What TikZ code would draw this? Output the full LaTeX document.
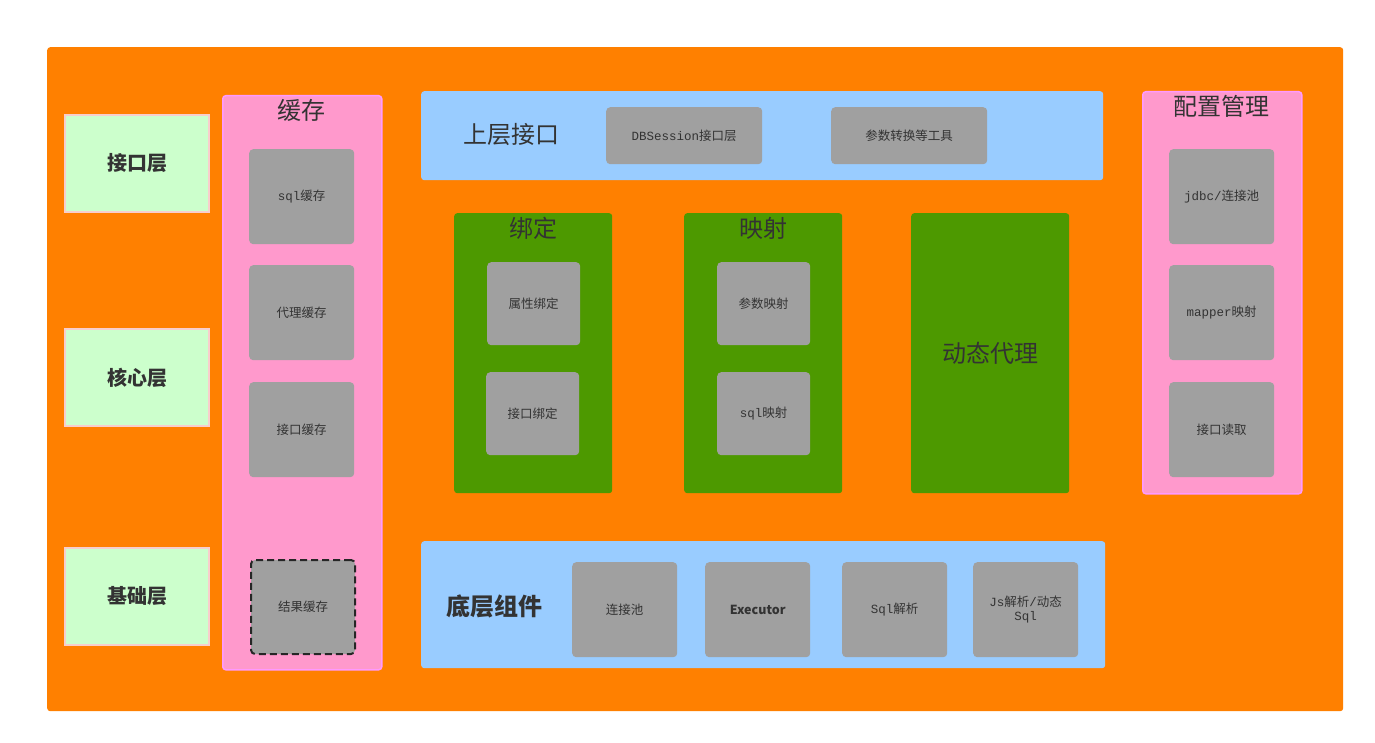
\documentclass[tikz,border=0pt]{standalone}
\usepackage{fontspec}
\setmainfont{Noto Sans CJK SC}
\setmonofont{Liberation Mono}
\definecolor{orangebg}{HTML}{FF8000}
\definecolor{layerfill}{HTML}{CCFFCC}
\definecolor{layerdraw}{HTML}{F8CECC}
\definecolor{pinkfill}{HTML}{FF99CC}
\definecolor{pinkdraw}{HTML}{FF99FF}
\definecolor{bluefill}{HTML}{99CCFF}
\definecolor{greenfill}{HTML}{4D9900}
\definecolor{grayfill}{HTML}{A0A0A0}
\definecolor{txt}{HTML}{333333}
\newcommand\bx[7][]{\node[#2, #1, anchor=north west, inner sep=0pt, minimum width={(#5-#3)*1pt}, minimum height={(#6-#4)*1pt}] (#7) at (#3,#4)}
\tikzset{
  orangebox/.style={fill=orangebg, rounded corners=3pt},
  layerbox/.style={fill=layerfill, draw=layerdraw, line width=2pt, text=txt, font=\bfseries\fontsize{20}{24}\selectfont},
  pinkcol/.style={fill=pinkfill, draw=pinkdraw, line width=1.5pt, rounded corners=3pt},
  bluebar/.style={fill=bluefill, rounded corners=3pt},
  greencol/.style={fill=greenfill, rounded corners=3pt},
  graybox/.style={fill=grayfill, rounded corners=4pt, text=txt, font=\fontsize{12.5}{16}\selectfont, align=center},
  dashbox/.style={graybox, draw=black!85, line width=2pt, dashed, dash pattern=on 7pt off 4pt},
  title/.style={text=txt, font=\fontsize{24}{28}\selectfont, inner sep=0pt},
  boldtitle/.style={text=txt, font=\bfseries\fontsize{24}{28}\selectfont, inner sep=0pt},
}
\begin{document}
\begin{tikzpicture}[x=1pt,y=-1pt]
\useasboundingbox[fill=white] (0,0) rectangle (1375,743);
\bx{orangebox}{47}{47}{1343}{711}{bg} {};
% layers
\bx{layerbox}{64}{114}{208}{211}{l1} {接口层};
\bx{layerbox}{64}{328}{208}{425}{l2} {核心层};
\bx{layerbox}{64}{547}{208}{644}{l3} {基础层};
% cache column
\bx{pinkcol}{222}{95}{381}{669}{cache} {};
\node[title] (cachet) at (301,110) {缓存};
\bx{graybox}{249}{149}{354}{244}{c1} {\texttt{sql}缓存};
\bx{graybox}{249}{265}{354}{360}{c2} {代理缓存};
\bx{graybox}{249}{382}{354}{477}{c3} {接口缓存};
\bx{dashbox}{250}{559}{354}{653}{c4} {结果缓存};
% upper interface
\bx{bluebar}{421}{91}{1103}{180}{upper} {};
\node[title] (uppert) at (511,135) {上层接口};
\bx{graybox}{606}{107}{762}{164}{u1} {\texttt{DBSession}接口层};
\bx{graybox}{831}{107}{987}{164}{u2} {参数转换等工具};
% core
\bx{greencol}{454}{213}{612}{493}{bind} {};
\node[title] (bindt) at (533,228) {绑定};
\bx{graybox}{487}{262}{580}{345}{b1} {属性绑定};
\bx{graybox}{486}{372}{579}{455}{b2} {接口绑定};
\bx{greencol}{684}{213}{842}{493}{map} {};
\node[title] (mapt) at (763,228) {映射};
\bx{graybox}{717}{262}{810}{345}{m1} {参数映射};
\bx{graybox}{717}{372}{810}{455}{m2} {\texttt{sql}映射};
\bx{greencol}{911}{213}{1069}{493}{proxy} {};
\node[title] (proxyt) at (990,353) {动态代理};
% config
\bx{pinkcol}{1142}{91}{1301}{493}{conf} {};
\node[title] (conft) at (1221,106) {配置管理};
\bx{graybox}{1169}{149}{1274}{244}{f1} {\texttt{jdbc/}连接池};
\bx{graybox}{1169}{265}{1274}{360}{f2} {\texttt{mapper}映射};
\bx{graybox}{1169}{382}{1274}{477}{f3} {接口读取};
% lower components
\bx{bluebar}{421}{541}{1105}{668}{lower} {};
\node[boldtitle] (lowert) at (494,606) {底层组件};
\bx{graybox}{572}{562}{677}{657}{d1} {连接池};
\bx{graybox}{705}{562}{810}{657}{d2} {\bfseries Executor};
\bx{graybox}{842}{562}{947}{657}{d3} {\texttt{Sql}解析};
\bx{graybox}{973}{562}{1078}{657}{d4} {\texttt{Js}解析\texttt{/}动态\\[-2pt]\texttt{Sql}};
\end{tikzpicture}
\end{document}
